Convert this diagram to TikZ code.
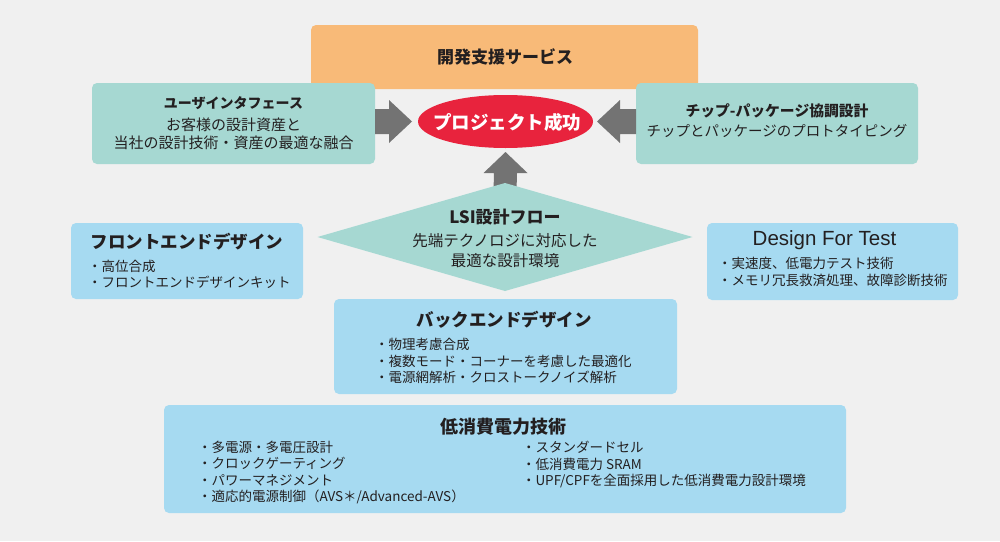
\documentclass[tikz,border=0pt]{standalone}
\usepackage{fontspec}
\setmainfont{Noto Sans CJK JP}
\newfontfamily\latinsans{Liberation Sans}
\usetikzlibrary{shapes.geometric,calc}
\definecolor{bgc}{HTML}{F0F0F0}
\definecolor{orangeF}{HTML}{F8BA78}
\definecolor{tealF}{HTML}{A6D8D2}
\definecolor{blueF}{HTML}{A6DAF1}
\definecolor{redF}{HTML}{E8233D}
\definecolor{grayA}{HTML}{737373}
\definecolor{txt}{HTML}{231F20}
\newcommand{\fs}[2]{\fontsize{#1pt}{#2pt}\selectfont}
\begin{document}
\begin{tikzpicture}[x=1pt,y=-1pt,
  every node/.style={inner sep=0pt,outer sep=0pt,text=txt},
  box/.style={rounded corners=5pt,anchor=north west,draw=none},
  ttl/.style={font=\fs{17.5}{20}\bfseries},
  lines/.style={align=left,anchor=west,font=\fs{13.5}{16.3}},
  garrow/.style={fill=grayA,draw=none}]
\fill[bgc] (0,0) rectangle (1000,541);
\useasboundingbox (0,0) rectangle (1000,541);

% boxes
\node[box,fill=orangeF,minimum width=387pt,minimum height=64pt] (dev) at (311,25) {};
\node[box,fill=tealF,minimum width=283pt,minimum height=81pt] (ui) at (92,83) {};
\node[box,fill=tealF,minimum width=282pt,minimum height=81pt] (chip) at (636,83) {};
\node[ellipse,fill=redF,minimum width=175pt,minimum height=53pt] (succ) at (505.5,121.5) {};
\node[box,fill=blueF,minimum width=232pt,minimum height=76pt] (fe) at (71,223) {};
\node[box,fill=blueF,minimum width=251pt,minimum height=77pt] (dft) at (707,223) {};
\node[box,fill=blueF,minimum width=343pt,minimum height=95pt] (be) at (334,299) {};
\node[box,fill=blueF,minimum width=682pt,minimum height=108pt] (lp) at (164,405) {};

% block arrows
\coordinate (diatop) at (505,183);
\coordinate (la) at (ui.east |- succ.center);
\coordinate (lt) at ($(succ.west)+(-6,0)$);
\fill[garrow] ($(la)+(0,-12.5)$) -- ($(lt)+(-23,-12.5)$) -- ($(lt)+(-23,-21.5)$) -- (lt)
  -- ($(lt)+(-23,21.5)$) -- ($(lt)+(-23,12.5)$) -- ($(la)+(0,12.5)$) -- cycle;
\coordinate (ra) at (chip.west |- succ.center);
\coordinate (rt) at ($(succ.east)+(4,0)$);
\fill[garrow] ($(ra)+(0,-12.5)$) -- ($(rt)+(23,-12.5)$) -- ($(rt)+(23,-21.5)$) -- (rt)
  -- ($(rt)+(23,21.5)$) -- ($(rt)+(23,12.5)$) -- ($(ra)+(0,12.5)$) -- cycle;
\coordinate (ua) at ($(diatop)+(0,8)$);
\coordinate (ut) at ($(succ.south)+(0,4)$);
\fill[garrow] ($(ua)+(-11.5,0)$) -- ($(ut)+(-11.5,21)$) -- ($(ut)+(-22,21)$) -- (ut)
  -- ($(ut)+(22,21)$) -- ($(ut)+(11.5,21)$) -- ($(ua)+(11.5,0)$) -- cycle;

% diamond
\node[diamond,fill=tealF,minimum width=375pt,minimum height=108pt,anchor=north] (dia) at (diatop) {};

% texts
\node[font=\fs{18.5}{20}\bfseries,text=white] (succt) at (507,122) {プロジェクト成功};
\node[font=\fs{17}{20}\bfseries] (devt) at (505,57) {開発支援サービス};
\node[font=\fs{14}{16}\bfseries] (uit) at (233.5,103.5) {ユーザインタフェース};
\node[font=\fs{15}{18},align=center] (uil) at (233.5,134) {お客様の設計資産と\\当社の設計技術・資産の最適な融合};
\node[font=\fs{14.8}{16}\bfseries] (chipt) at (777,111) {チップ-パッケージ協調設計};
\node[font=\fs{14.5}{16}] (chipl) at (777,131) {チップとパッケージのプロトタイピング};
\node[font=\fs{17}{20}\bfseries] (diat) at (505,217) {LSI設計フロー};
\node[font=\fs{15.5}{20},align=center] (dial) at (505,251) {先端テクノロジに対応した\\最適な設計環境};

\node[ttl] (fet) at (187,242) {フロントエンドデザイン};
\node[lines] (fel) at (88,274) {・高位合成\\・フロントエンドデザインキット};

\node[font=\fs{20.5}{22}\latinsans] (dftt) at (824.5,240) {Design For Test};
\node[lines] (dftl) at (718,272) {・実速度、低電力テスト技術\\・メモリ冗長救済処理、故障診断技術};

\node[ttl] (bet) at (504,320) {バックエンドデザイン};
\node[lines] (bel) at (375,361) {・物理考慮合成\\・複数モード・コーナーを考慮した最適化\\・電源網解析・クロストークノイズ解析};

\node[font=\fs{18}{20}\bfseries] (lpt) at (503,427) {低消費電力技術};
\node[lines] (lpl) at (198,472.5) {・多電源・多電圧設計\\・クロックゲーティング\\・パワーマネジメント\\・適応的電源制御（AVS＊/Advanced-AVS）};
\node[lines] (lpr) at (522,464.5) {・スタンダードセル\\・低消費電力 SRAM\\・UPF/CPFを全面採用した低消費電力設計環境};
\end{tikzpicture}
\end{document}
